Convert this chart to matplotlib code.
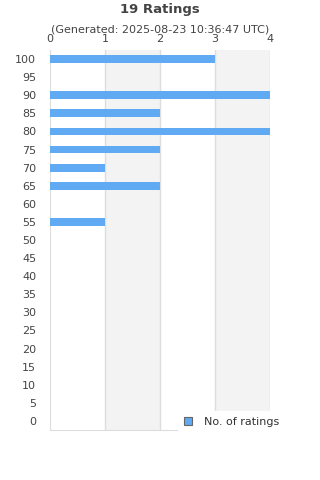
import matplotlib
matplotlib.use("Agg")
import matplotlib.pyplot as plt
from matplotlib.patches import Patch

categories = ["100", "95", "90", "85", "80", "75", "70", "65", "60", "55", "50",
              "45", "40", "35", "30", "25", "20", "15", "10", "5", "0"]
counts = [3, 0, 4, 2, 4, 2, 1, 2, 0, 1, 0, 0, 0, 0, 0, 0, 0, 0, 0, 0, 0]
x_ticks = [0, 1, 2, 3, 4]
title = "19 Ratings"
subtitle = "(Generated: 2025-08-23 10:36:47 UTC)"
series_name = "No. of ratings"

W, H = 320, 480
fig = plt.figure(figsize=(W / 100, H / 100), dpi=100)
left, right, top, bottom = 50, 270, 50, 430
ax = fig.add_axes([left / W, 1 - bottom / H, (right - left) / W, (bottom - top) / H])

bar_color = "#60a9f3"
ypos = list(range(len(categories)))
ax.barh(ypos, counts, height=0.43, color=bar_color, zorder=3)
ax.set_ylim(len(categories) - 0.5, -0.5)
ax.set_xlim(0, 4)

# alternating bands
for i in range(len(x_ticks) - 1):
    if i % 2 == 1:
        ax.axvspan(x_ticks[i], x_ticks[i + 1], color="#f3f3f3", zorder=0, lw=0)
for xv in x_ticks[1:]:
    ax.axvline(xv, color="#dddddd", lw=1, zorder=1)

ax.set_yticks(ypos)
ax.set_yticklabels(categories)
ax.set_xticks(x_ticks)
ax.xaxis.tick_top()
ax.tick_params(axis="both", length=0, labelsize=8, colors="#444444")
ax.tick_params(axis="x", pad=4.5)
ax.tick_params(axis="y", pad=10)
for s in ["top", "right"]:
    ax.spines[s].set_visible(False)
ax.spines["left"].set_color("#dddddd")
ax.spines["bottom"].set_color("#dddddd")

fig.text(0.5, 1 - 10 / H, title, ha="center", va="center", fontsize=9.5,
         fontweight="bold", color="#444444")
fig.text(0.5, 1 - 30 / H, subtitle, ha="center", va="center", fontsize=8,
         color="#444444")

handle = Patch(facecolor=bar_color, edgecolor="#666666", lw=0.8)
leg = fig.legend([handle], [series_name], loc="center left",
                 bbox_to_anchor=(178 / W, 1 - 422 / H), frameon=True,
                 fontsize=8, handlelength=0.8, handleheight=0.8,
                 handletextpad=1.0, borderpad=0.5, borderaxespad=0)
leg.get_frame().set_facecolor("white")
leg.get_frame().set_edgecolor("white")
leg.get_frame().set_alpha(1)
for t in leg.get_texts():
    t.set_color("#333333")

fig.savefig("out.png", dpi=100)
